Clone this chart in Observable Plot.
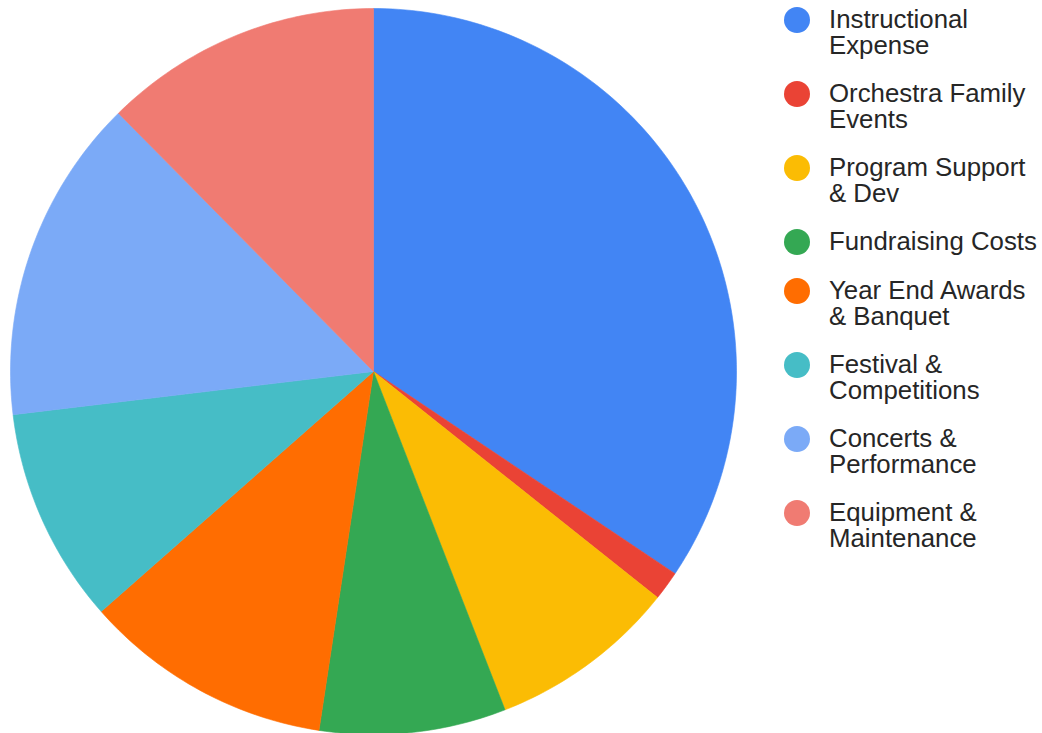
<!DOCTYPE html>
<html>
<head>
<meta charset="utf-8">
<script src="https://cdn.jsdelivr.net/npm/d3@7"></script>
<script src="https://cdn.jsdelivr.net/npm/@observablehq/plot@0.6"></script>
<style>
  html, body { margin: 0; padding: 0; background: #fff; }
  #wrap { position: relative; width: 1042px; height: 733px; overflow: hidden; }
  #legend { position: absolute; left: 784px; top: 6px; font-family: "Liberation Sans", Arial, sans-serif; font-size: 25.8px; line-height: 26px; color: #262626; }
  .item { display: flex; align-items: flex-start; margin-bottom: 22px; }
  .dot { width: 26px; height: 26px; border-radius: 50%; margin-top: 1px; margin-right: 19px; flex: none; }
</style>
</head>
<body>
<div id="wrap"><div id="legend"></div></div>
<script>
const categories = [
  "Instructional Expense",
  "Orchestra Family Events",
  "Program Support & Dev",
  "Fundraising Costs",
  "Year End Awards & Banquet",
  "Festival & Competitions",
  "Concerts & Performance",
  "Equipment & Maintenance"
];
const legendLines = [
  ["Instructional", "Expense"],
  ["Orchestra Family", "Events"],
  ["Program Support", "& Dev"],
  ["Fundraising Costs"],
  ["Year End Awards", "& Banquet"],
  ["Festival &", "Competitions"],
  ["Concerts &", "Performance"],
  ["Equipment &", "Maintenance"]
];
const values = [34.4, 1.3, 8.4, 8.3, 11.1, 9.6, 14.5, 12.4];
const colors = ["#4285F4", "#EA4335", "#FBBC04", "#34A853", "#FF6D01", "#46BDC6", "#7BAAF7", "#F07B72"];

// Build slice outlines (geometry derived from the values)
const total = d3.sum(values);
const outline = [];
let acc = 0;
categories.forEach((cat, i) => {
  const a0 = acc / total * 2 * Math.PI;
  acc += values[i];
  const a1 = acc / total * 2 * Math.PI;
  const n = Math.max(2, Math.ceil((a1 - a0) * 180 / Math.PI));
  outline.push({category: cat, x: 0, y: 0});
  for (let k = 0; k <= n; k++) {
    const a = a0 + (a1 - a0) * k / n;
    outline.push({category: cat, x: Math.sin(a), y: Math.cos(a)});
  }
  outline.push({category: cat, x: 0, y: 0});
});

const chart = Plot.plot({
  width: 1042,
  height: 733,
  x: {domain: [-1, 1], range: [10, 736], axis: null},
  y: {domain: [-1, 1], range: [734, 8], axis: null},
  color: {domain: categories, range: colors},
  marks: [
    Plot.line(outline, {x: "x", y: "y", z: "category", fill: "category", stroke: "category", strokeWidth: 0.6, curve: "linear"})
  ]
});
document.getElementById("wrap").prepend(chart);

const legend = document.getElementById("legend");
categories.forEach((cat, i) => {
  const item = document.createElement("div");
  item.className = "item";
  const dot = document.createElement("div");
  dot.className = "dot";
  dot.style.background = colors[i];
  const label = document.createElement("div");
  label.innerHTML = legendLines[i].map(s => s.replace(/&/g, "&amp;")).join("<br>");
  item.appendChild(dot);
  item.appendChild(label);
  legend.appendChild(item);
});
</script>
</body>
</html>
